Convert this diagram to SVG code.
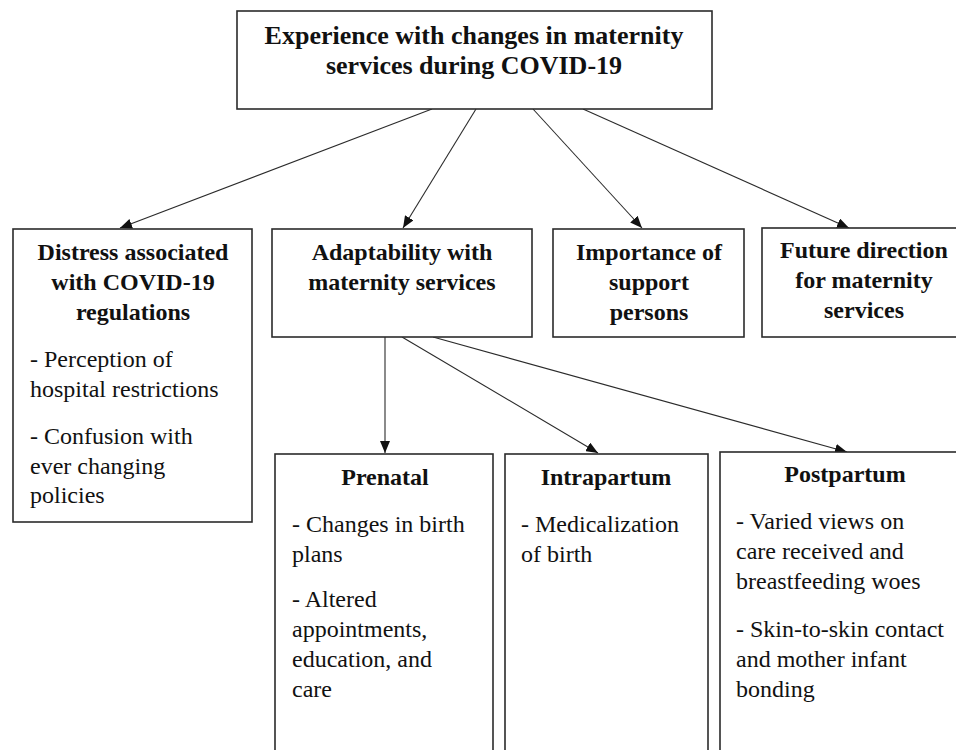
<svg xmlns="http://www.w3.org/2000/svg" width="956" height="750" viewBox="0 0 956 750">
<style>
.box{fill:#fff;stroke:#2b2b2b;stroke-width:1.6}
.t{font-family:"Liberation Serif","Times New Roman",serif;font-weight:bold;font-size:24px;fill:#111;text-anchor:middle}
.tt{font-size:26px}
.b{font-family:"Liberation Serif","Times New Roman",serif;font-size:24px;fill:#111}
.c{stroke:#2b2b2b;stroke-width:1.1;fill:none;marker-end:url(#ah)}
</style>
<defs>
<marker id="ah" markerUnits="userSpaceOnUse" markerWidth="12" markerHeight="10" refX="12" refY="5" orient="auto" viewBox="0 0 12 10">
<path d="M0,0 L12,5 L0,10 z" fill="#111"/>
</marker>
</defs>
<rect width="956" height="750" fill="#fff"/>
<g id="connectors">
<line class="c" x1="432" y1="109" x2="120" y2="228"/>
<line class="c" x1="476" y1="109" x2="403" y2="228"/>
<line class="c" x1="533" y1="109" x2="642" y2="228"/>
<line class="c" x1="583" y1="109" x2="849" y2="228"/>
<line class="c" x1="385" y1="337" x2="385" y2="453"/>
<line class="c" x1="402" y1="337" x2="598" y2="453"/>
<line class="c" x1="433" y1="337" x2="847" y2="452"/>
</g>
<g id="root">
<rect class="box" x="237" y="11" width="475" height="98"/>
<text class="t tt" x="474" y="44">Experience with changes in maternity</text>
<text class="t tt" x="474" y="74">services during COVID-19</text>
</g>
<g id="distress">
<rect class="box" x="13" y="229" width="239" height="293"/>
<text class="t" x="133" y="260">Distress associated</text>
<text class="t" x="133" y="290">with COVID-19</text>
<text class="t" x="133" y="320">regulations</text>
<text class="b" x="30" y="367">- Perception of</text>
<text class="b" x="30" y="397">hospital restrictions</text>
<text class="b" x="30" y="444">- Confusion with</text>
<text class="b" x="30" y="474">ever changing</text>
<text class="b" x="30" y="503">policies</text>
</g>
<g id="adaptability">
<rect class="box" x="272" y="229" width="260" height="108"/>
<text class="t" x="402" y="260">Adaptability with</text>
<text class="t" x="402" y="290">maternity services</text>
</g>
<g id="importance">
<rect class="box" x="553" y="229" width="191" height="108"/>
<text class="t" x="649" y="260">Importance of</text>
<text class="t" x="649" y="290">support</text>
<text class="t" x="649" y="320">persons</text>
</g>
<g id="future">
<rect class="box" x="762" y="228" width="205" height="109"/>
<text class="t" x="864" y="258">Future direction</text>
<text class="t" x="864" y="288">for maternity</text>
<text class="t" x="864" y="318">services</text>
</g>
<g id="prenatal">
<rect class="box" x="275" y="454" width="218" height="310"/>
<text class="t" x="385" y="485">Prenatal</text>
<text class="b" x="292" y="532">- Changes in birth</text>
<text class="b" x="292" y="562">plans</text>
<text class="b" x="292" y="607">- Altered</text>
<text class="b" x="292" y="637">appointments,</text>
<text class="b" x="292" y="667">education, and</text>
<text class="b" x="292" y="697">care</text>
</g>
<g id="intrapartum">
<rect class="box" x="505" y="454" width="203" height="310"/>
<text class="t" x="606" y="485">Intrapartum</text>
<text class="b" x="521" y="532">- Medicalization</text>
<text class="b" x="521" y="562">of birth</text>
</g>
<g id="postpartum">
<rect class="box" x="720" y="452" width="250" height="312"/>
<text class="t" x="845" y="482">Postpartum</text>
<text class="b" x="736" y="529">- Varied views on</text>
<text class="b" x="736" y="559">care received and</text>
<text class="b" x="736" y="589">breastfeeding woes</text>
<text class="b" x="736" y="637">- Skin-to-skin contact</text>
<text class="b" x="736" y="667">and mother infant</text>
<text class="b" x="736" y="697">bonding</text>
</g>
</svg>
